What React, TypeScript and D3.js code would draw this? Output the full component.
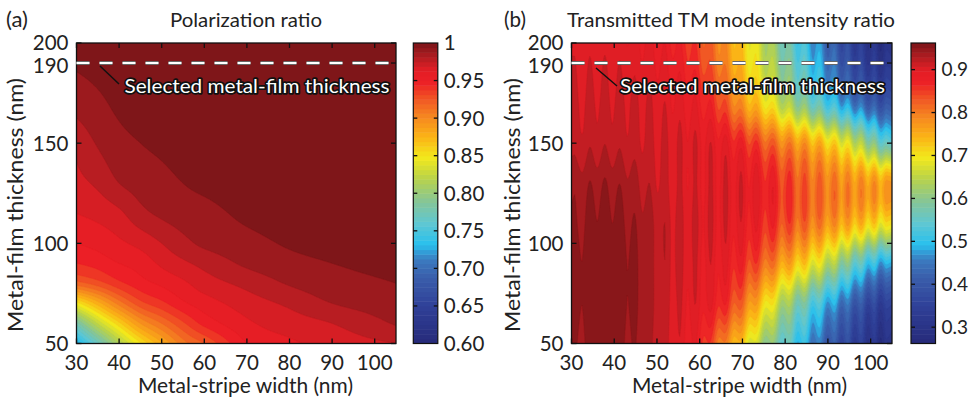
import React, { useMemo } from "react";
import * as d3 from "d3";

// ---------------- data ----------------
const stripeWidthTicks = [30, 40, 50, 60, 70, 80, 90, 100];
const filmThicknessTicks = [50, 100, 150, 190, 200];
const selectedThickness = 190;

// (a) Polarization ratio, rows = film thickness (ascending), cols = stripe width
const polWidths = [30, 35, 40, 45, 50, 55, 60, 70, 80, 90, 105];
const polThicknesses = [50, 60, 70, 80, 90, 100, 115, 130, 150, 170, 200];
const polarizationRatio = [
  [0.72, 0.765, 0.81, 0.848, 0.878, 0.905, 0.92, 0.95, 0.958, 0.964, 0.97],
  [0.775, 0.82, 0.857, 0.89, 0.91, 0.928, 0.943, 0.958, 0.965, 0.97, 0.981],
  [0.845, 0.875, 0.904, 0.926, 0.937, 0.948, 0.955, 0.965, 0.972, 0.98, 0.986],
  [0.915, 0.925, 0.937, 0.946, 0.952, 0.958, 0.965, 0.973, 0.981, 0.986, 0.99],
  [0.94, 0.944, 0.95, 0.954, 0.962, 0.968, 0.973, 0.982, 0.987, 0.99, 0.993],
  [0.95, 0.953, 0.958, 0.963, 0.97, 0.977, 0.982, 0.987, 0.991, 0.993, 0.995],
  [0.96, 0.963, 0.968, 0.977, 0.982, 0.985, 0.987, 0.992, 0.994, 0.995, 0.997],
  [0.967, 0.972, 0.98, 0.984, 0.987, 0.99, 0.992, 0.995, 0.996, 0.997, 0.998],
  [0.973, 0.981, 0.987, 0.99, 0.992, 0.994, 0.995, 0.997, 0.998, 0.998, 0.999],
  [0.984, 0.988, 0.992, 0.994, 0.995, 0.996, 0.997, 0.998, 0.999, 0.999, 0.999],
  [0.995, 0.996, 0.997, 0.998, 0.998, 0.998, 0.999, 0.999, 0.999, 1.0, 1.0],
];

// (b) Transmitted TM mode intensity ratio (smooth trend)
const tmWidths = [30, 35, 40, 45, 50, 55, 60, 65, 70, 75, 80, 85, 90, 95, 100, 105];
const tmThicknesses = [50, 70, 90, 110, 130, 150, 170, 190, 200];
const tmIntensityRatio = [
  [0.94, 0.95, 0.95, 0.94, 0.92, 0.9, 0.875, 0.8, 0.72, 0.62, 0.55, 0.48, 0.41, 0.36, 0.31, 0.28],
  [0.945, 0.955, 0.955, 0.945, 0.925, 0.905, 0.895, 0.87, 0.81, 0.72, 0.63, 0.56, 0.49, 0.43, 0.37, 0.33],
  [0.945, 0.955, 0.955, 0.945, 0.925, 0.91, 0.9, 0.89, 0.865, 0.82, 0.76, 0.71, 0.65, 0.58, 0.51, 0.46],
  [0.94, 0.95, 0.95, 0.94, 0.925, 0.91, 0.905, 0.9, 0.89, 0.87, 0.84, 0.81, 0.78, 0.75, 0.72, 0.68],
  [0.935, 0.94, 0.94, 0.93, 0.915, 0.905, 0.9, 0.9, 0.895, 0.88, 0.85, 0.82, 0.8, 0.78, 0.77, 0.75],
  [0.915, 0.92, 0.92, 0.915, 0.91, 0.905, 0.9, 0.89, 0.865, 0.83, 0.79, 0.76, 0.72, 0.67, 0.6, 0.52],
  [0.91, 0.912, 0.912, 0.91, 0.905, 0.895, 0.88, 0.84, 0.77, 0.71, 0.64, 0.58, 0.52, 0.46, 0.41, 0.37],
  [0.905, 0.905, 0.905, 0.9, 0.895, 0.88, 0.85, 0.8, 0.73, 0.66, 0.59, 0.52, 0.45, 0.38, 0.33, 0.3],
  [0.9, 0.9, 0.9, 0.895, 0.89, 0.87, 0.84, 0.79, 0.72, 0.65, 0.57, 0.5, 0.43, 0.36, 0.31, 0.28],
];
// (b) fine oscillation: stripe-width positions of the bright ripple crests and their strength
const tmRipplePeaks = [30.8, 34.3, 37.8, 41.3, 44.8, 48.3, 51.9, 55.4, 59.0, 62.6, 66.1, 69.7, 73.3, 77.2, 81.1, 84.6, 88.1, 91.6, 94.7, 97.8, 100.9, 103.6];
const tmRippleAmplitude = [0.006, 0.006, 0.006, 0.006, 0.006, 0.007, 0.008, 0.01, 0.012, 0.014, 0.016, 0.018, 0.02, 0.022, 0.024, 0.025, 0.025, 0.025, 0.025, 0.025, 0.024, 0.022];

const polBarTicks = [1, 0.95, 0.9, 0.85, 0.8, 0.75, 0.7, 0.65, 0.6];
const polBarLabels = ["1", "0.95", "0.90", "0.85", "0.80", "0.75", "0.70", "0.65", "0.60"];
const tmBarTicks = [0.9, 0.8, 0.7, 0.6, 0.5, 0.4, 0.3];
const tmBarLabels = ["0.9", "0.8", "0.7", "0.6", "0.5", "0.4", "0.3"];

// ---------------- styling ----------------
const FONT = "Lato, 'Open Sans', sans-serif";
const PLOT_TOP = 43;
const PLOT_BOTTOM = 343.5;
const COLOR_STOPS = [0, 0.12, 0.22, 0.28, 0.33, 0.4, 0.47, 0.55, 0.62, 0.69, 0.75, 0.81, 0.87, 0.91, 0.95, 1];
const COLOR_HEX = [
  "#262a79", "#2f3f97", "#3a5eab", "#3b7bc0", "#28c0ee", "#5fc7d2", "#84c59a",
  "#b9d34a", "#f3e91b", "#fbb216", "#f68b1f", "#f15a24", "#ec1f26", "#e31e25", "#b41d22", "#7b1518",
];
const cmap = d3.scaleLinear<string>().domain(COLOR_STOPS).range(COLOR_HEX).clamp(true);

// cubic Hermite (Catmull-Rom tangents) on a non-uniform grid, used for smooth shading
function cubic1D(xs: number[], ys: number[], x: number) {
  const n = xs.length;
  const i = Math.max(0, Math.min(n - 2, d3.bisectRight(xs, x) - 1));
  const h = xs[i + 1] - xs[i];
  const s = Math.max(0, Math.min(1, (x - xs[i]) / h));
  const slope = (k: number) =>
    k <= 0
      ? (ys[1] - ys[0]) / (xs[1] - xs[0])
      : k >= n - 1
      ? (ys[n - 1] - ys[n - 2]) / (xs[n - 1] - xs[n - 2])
      : (ys[k + 1] - ys[k - 1]) / (xs[k + 1] - xs[k - 1]);
  const m0 = slope(i) * h, m1 = slope(i + 1) * h;
  const s2 = s * s, s3 = s2 * s;
  return (2 * s3 - 3 * s2 + 1) * ys[i] + (s3 - 2 * s2 + s) * m0 + (-2 * s3 + 3 * s2) * ys[i + 1] + (s3 - s2) * m1;
}

// ripple knots: crests (+amp) alternating with troughs (-amp) halfway between crests
function rippleKnots(peaks: number[], amps: number[]) {
  const kx: number[] = [];
  const kv: number[] = [];
  peaks.forEach((px, k) => {
    if (k > 0) {
      kx.push((peaks[k - 1] + px) / 2);
      kv.push(-(amps[k - 1] + amps[k]) / 2);
    }
    kx.push(px);
    kv.push(amps[k]);
  });
  return { kx, kv };
}

type PanelProps = {
  id: string;
  plotLeft: number;
  plotRight: number;
  xs: number[];
  ts: number[];
  rows: number[][];
  ripple?: { kx: number[]; kv: number[] };
  vmin: number;
  vmax: number;
  step: number;
  fillFrac: number;
  barLeft: number;
  barTicks: number[];
  barLabels: string[];
  barFont: number;
  letter: string;
  letterX: number;
  title: string;
  titleX: number;
  titleLen: number;
  yLabelX: number;
  xLabelX: number;
  annX: number;
  leader: [number, number, number, number];
};

function Panel(p: PanelProps) {
  const xScale = d3.scaleLinear().domain([30, 105]).range([p.plotLeft, p.plotRight]);
  const yScale = d3.scaleLinear().domain([50, 200]).range([PLOT_BOTTOM, PLOT_TOP]);
  const color = (v: number) => cmap((v - p.vmin) / (p.vmax - p.vmin));

  const bands = useMemo(() => {
    const N = 300, M = 240;
    const vals = new Array(N * M);
    for (let i = 0; i < N; i++) {
      const x = 30 + (i * 75) / (N - 1);
      const col = p.rows.map((r) => cubic1D(p.xs, r, x));
      const rip = p.ripple ? cubic1D(p.ripple.kx, p.ripple.kv, x) : 0;
      for (let j = 0; j < M; j++) {
        const t = 200 - (j * 150) / (M - 1);
        vals[j * N + i] = cubic1D(p.ts, col, t) + rip;
      }
    }
    const levels = d3.range(p.vmin, p.vmax, p.step);
    const contours = d3.contours().size([N, M]).thresholds(levels)(vals);
    const proj = d3.geoTransform({
      point(px: number, py: number) {
        const x = 30 + ((px - 0.5) * 75) / (N - 1);
        const t = 200 - ((py - 0.5) * 150) / (M - 1);
        (this as any).stream.point(xScale(x), yScale(t));
      },
    });
    const path = d3.geoPath(proj);
    return contours.map((c) => ({
      d: path(c as any) || "",
      fill: color(Math.min(c.value + p.step * p.fillFrac, p.vmax)),
    }));
  }, [p.id]);

  const barTop = PLOT_TOP;
  const barBottom = PLOT_BOTTOM;
  const barW = 24.5;
  const barScale = d3.scaleLinear().domain([p.vmin, p.vmax]).range([barBottom, barTop]);
  const nBar = 64;
  const barBands = d3.range(nBar).map((k) => {
    const v0 = p.vmin + ((p.vmax - p.vmin) * k) / nBar;
    const v1 = p.vmin + ((p.vmax - p.vmin) * (k + 1)) / nBar;
    return { y: barScale(v1), h: barScale(v0) - barScale(v1) + 0.5, fill: color((v0 + v1) / 2) };
  });

  const ySel = yScale(selectedThickness);
  const tickLen = 5;

  return (
    <g>
      <defs>
        <clipPath id={`clip-${p.id}`}>
          <rect x={p.plotLeft} y={PLOT_TOP} width={p.plotRight - p.plotLeft} height={PLOT_BOTTOM - PLOT_TOP} />
        </clipPath>
      </defs>
      <g clipPath={`url(#clip-${p.id})`}>
        <rect x={p.plotLeft} y={PLOT_TOP} width={p.plotRight - p.plotLeft} height={PLOT_BOTTOM - PLOT_TOP} fill={color(p.vmin)} />
        {bands.map((b, k) => (
          <path key={k} d={b.d} fill={b.fill} stroke={b.fill} strokeWidth={0.4} />
        ))}
      </g>
      <rect x={p.plotLeft} y={PLOT_TOP} width={p.plotRight - p.plotLeft} height={PLOT_BOTTOM - PLOT_TOP} fill="none" stroke="#111" strokeWidth={1.3} />
      {stripeWidthTicks.map((v) => (
        <g key={v}>
          <line x1={xScale(v)} x2={xScale(v)} y1={PLOT_BOTTOM} y2={PLOT_BOTTOM - tickLen} stroke="#111" strokeWidth={1.3} />
          <line x1={xScale(v)} x2={xScale(v)} y1={PLOT_TOP} y2={PLOT_TOP + tickLen} stroke="#111" strokeWidth={1.3} />
          <text x={xScale(v)} y={370} textAnchor="middle" fontSize={20.5} fontFamily={FONT} fill="#222">{v}</text>
        </g>
      ))}
      {filmThicknessTicks.map((v) => (
        <g key={v}>
          <line x1={p.plotLeft} x2={p.plotLeft + tickLen} y1={yScale(v)} y2={yScale(v)} stroke="#111" strokeWidth={1.3} />
          <line x1={p.plotRight} x2={p.plotRight - tickLen} y1={yScale(v)} y2={yScale(v)} stroke="#111" strokeWidth={1.3} />
          <text x={p.plotLeft - 8} y={yScale(v) + (v === 190 ? 3 : 0)} dy="0.36em" textAnchor="end" fontSize={20.5} fontFamily={FONT} fill="#222">{v}</text>
        </g>
      ))}
      <line x1={p.plotLeft} x2={p.plotRight} y1={ySel} y2={ySel} stroke="#666" strokeWidth={4} strokeDasharray="13 10" />
      <line x1={p.plotLeft} x2={p.plotRight} y1={ySel} y2={ySel} stroke="#fff" strokeWidth={2} strokeDasharray="13 10" />
      <line x1={p.leader[0]} y1={p.leader[1]} x2={p.leader[2]} y2={p.leader[3]} stroke="#111" strokeWidth={1.5} />
      <text x={p.annX} y={92.5} fontSize={20} fontFamily={FONT} fill="#fff" stroke="#111" strokeWidth={3.5}
        strokeLinejoin="round" paintOrder="stroke" textLength={265} lengthAdjust="spacingAndGlyphs">
        Selected metal-film thickness
      </text>
      <text x={p.xLabelX} y={393} textAnchor="middle" fontSize={20.5} fontFamily={FONT} fill="#222"
        textLength={215} lengthAdjust="spacingAndGlyphs">Metal-stripe width (nm)</text>
      <text transform={`translate(${p.yLabelX},205) rotate(-90)`} textAnchor="middle" fontSize={20.5} fontFamily={FONT} fill="#222"
        textLength={254} lengthAdjust="spacingAndGlyphs">
        Metal-film thickness (nm)
      </text>
      <text x={p.letterX} y={27} fontSize={20.5} fontFamily={FONT} fill="#222" textLength={22} lengthAdjust="spacingAndGlyphs">{p.letter}</text>
      <text x={p.titleX} y={27} textAnchor="middle" fontSize={20} fontFamily={FONT} fill="#222"
        textLength={p.titleLen} lengthAdjust="spacingAndGlyphs">{p.title}</text>
      {barBands.map((b, k) => (
        <rect key={k} x={p.barLeft} y={b.y} width={barW} height={b.h} fill={b.fill} />
      ))}
      <rect x={p.barLeft} y={barTop} width={barW} height={barBottom - barTop} fill="none" stroke="#111" strokeWidth={1.2} />
      {p.barTicks.map((v, k) => (
        <g key={k}>
          {v > p.vmin + 0.001 && v < p.vmax - 0.001 && (
            <>
              <line x1={p.barLeft} x2={p.barLeft + 4} y1={barScale(v)} y2={barScale(v)} stroke="#111" strokeWidth={1.3} />
              <line x1={p.barLeft + barW} x2={p.barLeft + barW - 4} y1={barScale(v)} y2={barScale(v)} stroke="#111" strokeWidth={1.3} />
            </>
          )}
          <text x={p.barLeft + barW + 6} y={barScale(v)} dy="0.36em" fontSize={p.barFont} fontFamily={FONT} fill="#222">{p.barLabels[k]}</text>
        </g>
      ))}
    </g>
  );
}

export default function App() {
  const ripple = rippleKnots(tmRipplePeaks, tmRippleAmplitude);
  return (
    <svg width={969} height={400} style={{ position: "absolute", left: 0, top: 0, background: "#fff" }}>
      <rect width={969} height={400} fill="#fff" />
      <Panel
        id="a"
        plotLeft={76.5}
        plotRight={396}
        xs={polWidths}
        ts={polThicknesses}
        rows={polarizationRatio}
        vmin={0.6}
        vmax={1.0}
        step={0.01}
        fillFrac={0.85}
        barLeft={413.3}
        barTicks={polBarTicks}
        barLabels={polBarLabels}
        barFont={20.5}
        letter="(a)"
        letterX={6}
        title="Polarization ratio"
        titleX={246}
        titleLen={152}
        yLabelX={23}
        xLabelX={245.5}
        annX={124.5}
        leader={[100, 66, 119, 84]}
      />
      <Panel
        id="b"
        plotLeft={571.5}
        plotRight={892}
        xs={tmWidths}
        ts={tmThicknesses}
        rows={tmIntensityRatio}
        ripple={ripple}
        vmin={0.262}
        vmax={0.962}
        step={0.0175}
        fillFrac={0.5}
        barLeft={911}
        barTicks={tmBarTicks}
        barLabels={tmBarLabels}
        barFont={19}
        letter="(b)"
        letterX={504}
        title="Transmitted TM mode intensity ratio"
        titleX={731}
        titleLen={328}
        yLabelX={520}
        xLabelX={739.5}
        annX={620}
        leader={[596, 68, 617, 86]}
      />
    </svg>
  );
}
